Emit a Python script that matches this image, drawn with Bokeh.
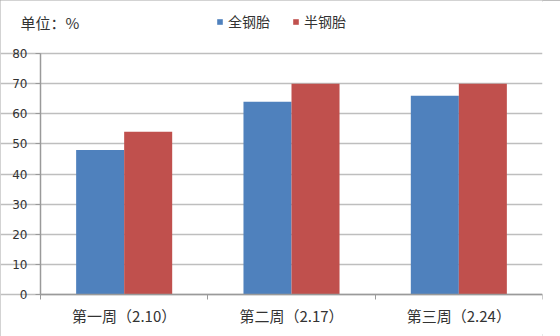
import numpy as np
from bokeh.plotting import figure
from bokeh.models import (ColumnDataSource, FixedTicker, Legend, LegendItem,
                          Label, Range1d, LinearAxis)
from bokeh.embed import file_html
from bokeh.resources import INLINE

categories = ["第一周（2.10）", "第二周（2.17）", "第三周（2.24）"]
series_names = ["全钢胎", "半钢胎"]
full_steel = [48, 64, 66]
semi_steel = [54, 70, 70]
colors = ["#4F81BD", "#C0504D"]
y_ticks = [0, 10, 20, 30, 40, 50, 60, 70, 80]
unit_title = "单位：%"

n = len(categories)
centers = np.arange(n) + 0.5
bar_w = 0.287
y_max = y_ticks[-1]
# frame covers the whole canvas except a right margin; axes sit inside it
px_per_x = 502 / n
px_per_y = 241 / y_max
x_start = -40 / px_per_x
y_start = -42 / px_per_y
y_top = 294 / px_per_y

p = figure(width=560, height=336, output_backend="svg", toolbar_location=None,
           x_range=Range1d(x_start, n), y_range=Range1d(y_start, y_top),
           x_axis_location=None, y_axis_location=None,
           min_border_left=0, min_border_right=18,
           min_border_top=0, min_border_bottom=0)
p.styles = {"outline": "2px solid #A6A6A6", "outline-offset": "-2px"}
p.outline_line_color = None
p.background_fill_color = "white"
p.border_fill_color = "white"

src = ColumnDataSource(dict(
    x1=centers - bar_w / 2, x2=centers + bar_w / 2,
    a=full_steel, b=semi_steel))
r1 = p.vbar(x="x1", top="a", width=bar_w, source=src, color=colors[0], line_color=None)
r2 = p.vbar(x="x2", top="b", width=bar_w, source=src, color=colors[1], line_color=None)

axis_color = "#9A9A9A"

# x axis at y = 0
xax = LinearAxis(fixed_location=0,
                 ticker=FixedTicker(ticks=list(centers), minor_ticks=list(range(n + 1))),
                 bounds=(0, n))
xax.major_label_overrides = {float(c): lab for c, lab in zip(centers, categories)}
xax.major_tick_line_color = None
xax.minor_tick_line_color = axis_color
xax.minor_tick_out = 5
xax.minor_tick_in = 0
xax.axis_line_color = axis_color
xax.axis_line_width = 1.5
xax.major_label_text_font = "Noto Sans CJK SC"
xax.major_label_text_font_size = "15px"
xax.major_label_text_color = "#333333"
xax.major_label_standoff = 4
p.add_layout(xax, "below")
p.xgrid.grid_line_color = None

# y axis at x = 0
yax = LinearAxis(fixed_location=0, ticker=FixedTicker(ticks=y_ticks),
                 bounds=(0, y_max))
yax.minor_tick_line_color = None
yax.major_tick_out = 5
yax.major_tick_in = 0
yax.major_tick_line_color = axis_color
yax.axis_line_color = axis_color
yax.axis_line_width = 1.5
yax.major_label_text_font = "DejaVu Sans"
yax.major_label_text_font_size = "12px"
yax.major_label_text_color = "#333333"
yax.major_label_standoff = 8
p.add_layout(yax, "left")

p.ygrid.ticker = FixedTicker(ticks=y_ticks)
p.ygrid.bounds = (0, n)
p.ygrid.grid_line_color = "#BEBEBE"
p.ygrid.grid_line_width = 1.5

legend = Legend(items=[LegendItem(label=series_names[0], renderers=[r1]),
                       LegendItem(label=series_names[1], renderers=[r2])],
                orientation="horizontal", location=(216, 305),
                glyph_width=7, glyph_height=7, label_standoff=5, spacing=22,
                padding=0, margin=0, border_line_color=None,
                background_fill_alpha=0,
                label_text_font="Noto Sans CJK SC", label_text_font_size="14px",
                label_text_color="#333333")
p.add_layout(legend, "center")

title = Label(x=20, y=304, x_units="screen", y_units="screen",
              text=unit_title, text_font="Noto Sans CJK SC",
              text_font_size="15px", text_color="#333333")
p.add_layout(title)

open("out.html", "w").write(file_html(p, INLINE))
